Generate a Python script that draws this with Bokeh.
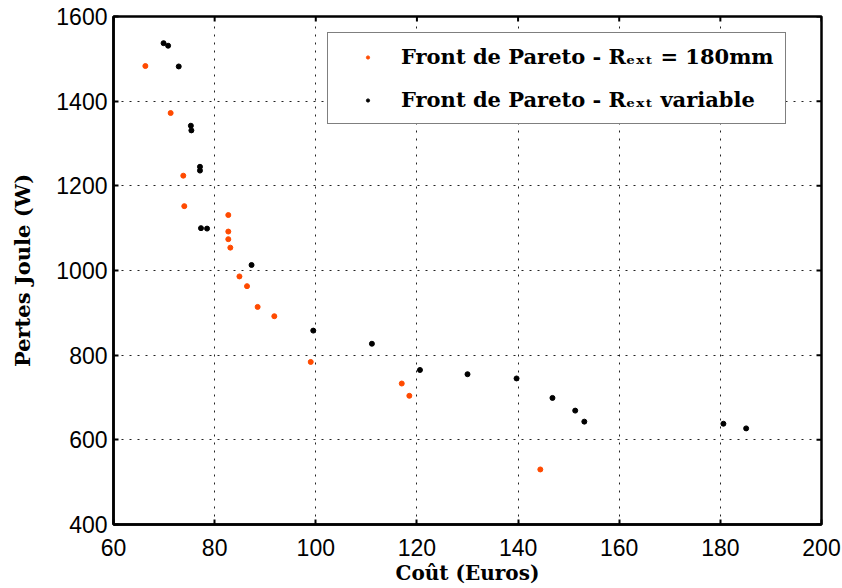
from bokeh.plotting import figure
from bokeh.models import Range1d, Legend, LegendItem, FixedTicker
from bokeh.embed import file_html
from bokeh.resources import INLINE

# Front de Pareto - R_ext = 180 mm
cout_180 = [66.3, 71.3, 73.8, 74.0, 82.7, 82.7, 82.7, 83.1, 84.9, 86.4,
            88.5, 91.8, 99.0, 117.0, 118.5, 144.4]
pertes_180 = [1483, 1372, 1224, 1152, 1131, 1092, 1074, 1054, 986, 963,
              914, 892, 784, 733, 704, 530]

# Front de Pareto - R_ext variable
cout_var = [69.9, 70.8, 72.9, 75.3, 75.4, 77.1, 77.1, 77.3, 78.5, 87.3,
            99.5, 111.1, 120.6, 130.0, 139.7, 146.8, 151.3, 153.1, 180.6, 185.1]
pertes_var = [1537, 1531, 1482, 1342, 1331, 1245, 1236, 1100, 1099, 1013,
              858, 827, 765, 755, 745, 699, 669, 643, 638, 627]

x_ticks = [60, 80, 100, 120, 140, 160, 180, 200]
y_ticks = [400, 600, 800, 1000, 1200, 1400, 1600]

label_180 = "Front de Pareto - R\u2091\u2093\u209c = 180mm"
label_var = "Front de Pareto - R\u2091\u2093\u209c variable"

FW, FH = 708, 508
TICK_PX = 5

xmin, xmax = x_ticks[0], x_ticks[-1]
ymin, ymax = y_ticks[0], y_ticks[-1]

p = figure(frame_width=FW, frame_height=FH,
           x_range=Range1d(xmin, xmax), y_range=Range1d(ymin, ymax),
           output_backend="svg", toolbar_location=None,
           min_border_left=113, min_border_right=20,
           min_border_top=16, min_border_bottom=50)

p.outline_line_color = "black"
p.outline_line_width = 2.5
p.background_fill_color = "white"
p.border_fill_color = "white"

for ax in (p.xaxis[0], p.yaxis[0]):
    ax.axis_line_width = 2.5
    ax.major_tick_in = TICK_PX
    ax.major_tick_out = 0
    ax.major_tick_line_width = 2
    ax.minor_tick_line_color = None
    ax.major_label_text_font = "Liberation Sans"
    ax.major_label_text_font_size = "23px"
    ax.major_label_text_color = "black"
    ax.axis_label_text_font = "DejaVu Serif"
    ax.axis_label_text_font_style = "bold"
    ax.axis_label_text_color = "black"

p.xaxis[0].axis_label_text_font_size = "20px"
p.yaxis[0].axis_label_text_font_size = "21px"
p.xaxis[0].ticker = FixedTicker(ticks=x_ticks)
p.yaxis[0].ticker = FixedTicker(ticks=y_ticks)
p.xaxis[0].axis_label = "Coût (Euros)"
p.yaxis[0].axis_label = "Pertes Joule (W)"
p.xaxis[0].major_label_standoff = 14
p.yaxis[0].major_label_standoff = 6
p.xaxis[0].axis_label_standoff = 2
p.yaxis[0].axis_label_standoff = 18

p.xgrid.ticker = FixedTicker(ticks=x_ticks)
p.ygrid.ticker = FixedTicker(ticks=y_ticks)
p.grid.grid_line_color = "#222222"
p.grid.grid_line_dash = "2 6"
p.grid.grid_line_width = 1

# inward ticks on the top and right frame edges (no labels there)
dy = TICK_PX * (ymax - ymin) / FH
dx = TICK_PX * (xmax - xmin) / FW
p.segment(x0=x_ticks, y0=[ymax] * len(x_ticks), x1=x_ticks, y1=[ymax - dy] * len(x_ticks),
          line_color="black", line_width=2)
p.segment(x0=[xmax] * len(y_ticks), y0=y_ticks, x1=[xmax - dx] * len(y_ticks), y1=y_ticks,
          line_color="black", line_width=2)

r180 = p.scatter(cout_180, pertes_180, size=5, color="#ff4a00")
rvar = p.scatter(cout_var, pertes_var, size=5, color="black")

legend = Legend(items=[LegendItem(label=label_180, renderers=[r180]),
                       LegendItem(label=label_var, renderers=[rvar])],
                location=(214, 400))
legend.label_text_font = "DejaVu Serif"
legend.label_text_font_style = "bold"
legend.label_text_font_size = "21px"
legend.label_text_color = "black"
legend.glyph_width = 57
legend.glyph_height = 8
legend.label_height = 20
legend.label_standoff = 5
legend.padding = 11
legend.spacing = 18
legend.margin = 0
legend.border_line_color = "black"
legend.border_line_width = 1.5
legend.background_fill_color = "white"
legend.background_fill_alpha = 1
p.add_layout(legend, "center")

open("out.html", "w").write(file_html(p, INLINE))
